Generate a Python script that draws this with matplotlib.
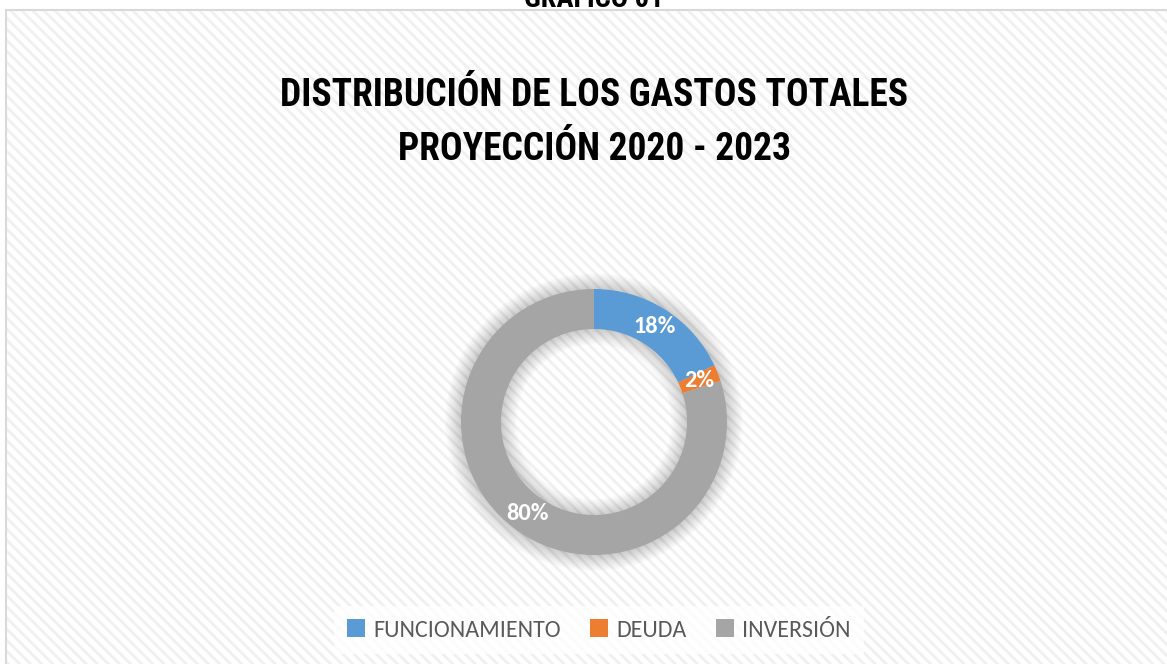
import matplotlib.pyplot as plt
from matplotlib.patches import Rectangle, Wedge

# Gastos totales proyectados 2020 - 2023 (porcentaje)
categorias = ['FUNCIONAMIENTO', 'DEUDA', 'INVERSIÓN']
porcentajes = [18, 2, 80]
colores = ['#5B9BD5', '#ED7D31', '#A5A5A5']

W, H = 1167, 664
plt.rcParams['hatch.linewidth'] = 2.0
plt.rcParams['hatch.color'] = '#f0f0f0'

titulo_font = ['Roboto Condensed', 'DejaVu Sans']
texto_font = ['Carlito', 'DejaVu Sans']

fig = plt.figure(figsize=(W / 100, H / 100), dpi=100)
ax = fig.add_axes([0, 0, 1, 1])

# chart area with diagonal stripes and thin grey border
area = Rectangle((6, -20), W + 20, H - 10 + 20, facecolor='white',
                 edgecolor='#d9d9d9', linewidth=1.5, zorder=0)
ax.add_patch(area)
stripes = Rectangle((7, -20), W + 20, H - 11 + 20, facecolor='none',
                    edgecolor='#f0f0f0', hatch='\\\\\\', linewidth=0, zorder=0.5)
ax.add_patch(stripes)

fig.text(594 / W, 1 - 7 / H, 'GRÁFICO 01', ha='center', va='baseline',
         fontsize=20.5, fontweight='bold', color='black', family=titulo_font)

fig.text(594 / W, 1 - 95 / H, 'DISTRIBUCIÓN DE LOS GASTOS TOTALES', ha='center',
         va='center', fontsize=27, fontweight='bold', color='black', family=titulo_font)
fig.text(594 / W, 1 - 150 / H, 'PROYECCIÓN 2020 - 2023', ha='center',
         va='center', fontsize=27, fontweight='bold', color='black', family=titulo_font)

cx, cy = 594, H - 422
R = 133
ancho = 40

# soft shadow around the ring
for i in range(16):
    ax.add_patch(Wedge((cx, cy), R + 1 + i, 0, 360, width=ancho + 2 + 2 * i,
                       facecolor='black', edgecolor='none', alpha=0.011, zorder=1))

wedges, _, autotexts = ax.pie(
    porcentajes, colors=colores, startangle=90, counterclock=False,
    center=(cx, cy), radius=R, autopct='%d%%', pctdistance=0.85,
    wedgeprops=dict(width=ancho, edgecolor='none'), frame=True,
    textprops=dict(color='white', fontsize=17.5, fontweight='bold', family=texto_font))
for w in wedges:
    w.set_zorder(2)
for t in autotexts:
    t.set_zorder(3)

ax.set_xlim(0, W)
ax.set_ylim(0, H)
ax.set_aspect('equal')
ax.axis('off')

leg = ax.legend(wedges, categorias, loc='center', bbox_to_anchor=(599 / W, 1 - 630 / H),
                bbox_transform=fig.transFigure, ncol=3, frameon=True,
                handlelength=0.75, handleheight=0.75, handletextpad=0.35,
                columnspacing=1.2, borderpad=0.55, fancybox=False,
                prop=dict(family=texto_font, size=17.3))
leg.get_frame().set_facecolor('white')
leg.get_frame().set_alpha(0.8)
leg.get_frame().set_edgecolor('none')
for t in leg.get_texts():
    t.set_color('#595959')

fig.savefig('out.png', dpi=100)
